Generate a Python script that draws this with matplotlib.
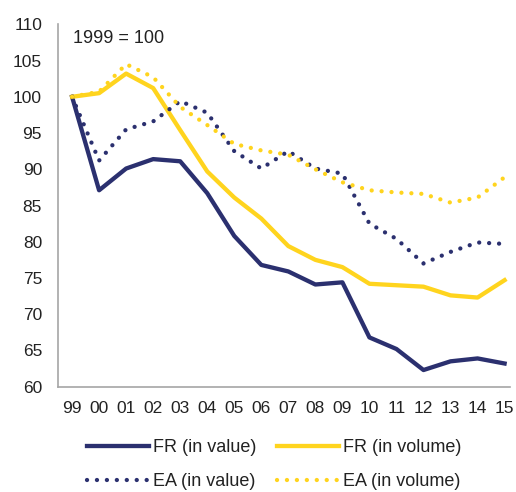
import matplotlib
matplotlib.use('Agg')
import matplotlib.pyplot as plt
import numpy as np

plt.rcParams['font.family'] = ['Liberation Sans', 'DejaVu Sans']

years = ['99', '00', '01', '02', '03', '04', '05', '06', '07', '08',
         '09', '10', '11', '12', '13', '14', '15']

fr_value = [100, 87.1, 90.1, 91.4, 91.1, 86.7, 80.8, 76.8, 75.9, 74.1,
            74.4, 66.8, 65.2, 62.3, 63.5, 63.9, 63.2]
fr_volume = [100, 100.5, 103.2, 101.2, 95.4, 89.7, 86.1, 83.2, 79.4, 77.5,
             76.5, 74.2, 74.0, 73.8, 72.6, 72.3, 74.7]
ea_value = [100, 91.2, 95.5, 96.6, 99.4, 97.8, 92.5, 90.1, 92.5, 90.1,
            89.4, 82.5, 80.4, 77.0, 78.6, 79.9, 79.7]
ea_volume = [100, 100.7, 104.5, 102.7, 98.6, 96.1, 93.5, 92.6, 92.0, 90.0,
             88.2, 87.1, 86.8, 86.6, 85.4, 86.1, 88.9]

navy = '#2B306F'
yellow = '#FFD41E'

fig = plt.figure(figsize=(5.16, 4.92), dpi=100)
ax = fig.add_axes([58/516, 1-386.7/492, 452/516, (386.7-24.3)/492])

x = np.arange(len(years))
lw = 3.1
dots = (0, (0.01, 2.3))

l1, = ax.plot(x, fr_value, color=navy, lw=lw, label='FR (in value)')
l2, = ax.plot(x, fr_volume, color=yellow, lw=lw, label='FR (in volume)')
l3, = ax.plot(x, ea_value, color=navy, lw=lw, linestyle=dots, dash_capstyle='round',
              label='EA (in value)')
l4, = ax.plot(x, ea_volume, color=yellow, lw=lw, linestyle=dots, dash_capstyle='round',
              label='EA (in volume)')

ax.set_xlim(-0.52, 16.2)
ax.set_ylim(60, 110)
ax.set_yticks(np.arange(60, 111, 5))
ax.set_xticks(x)
ax.set_xticklabels(years)
ax.tick_params(axis='both', length=0, labelsize=12.5, colors='#222222')
ax.tick_params(axis='y', pad=11.5)
ax.tick_params(axis='x', pad=10.5)

for s in ['top', 'right']:
    ax.spines[s].set_visible(False)
for s in ['left', 'bottom']:
    ax.spines[s].set_color('#A6A6A6')
    ax.spines[s].set_linewidth(1.2)

ax.text(15/452, 0.985, '1999 = 100', transform=ax.transAxes, fontsize=13,
        va='top', ha='left', color='#222222')

# matplotlib fills legend columns first, so order handles for row layout
fig.legend([l1, l3, l2, l4], [l1.get_label(), l3.get_label(), l2.get_label(), l4.get_label()],
           loc='center', bbox_to_anchor=(274.5/516, 1-464.5/492), ncol=2, frameon=False,
           fontsize=13, handlelength=3.4, handletextpad=0.25, columnspacing=1.15,
           labelspacing=0.95)
for t in fig.legends[0].get_texts():
    t.set_color('#222222')

fig.savefig('out.png', dpi=100)
